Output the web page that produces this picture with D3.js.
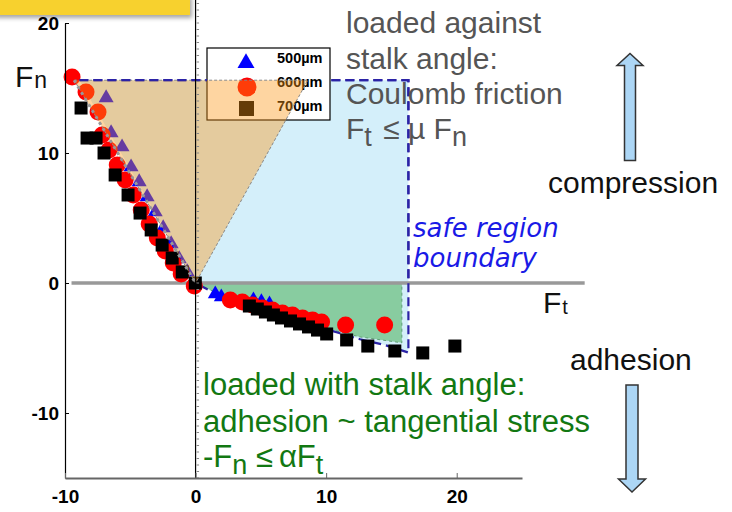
<!DOCTYPE html>
<html>
<head>
<meta charset="utf-8">
<script src="https://cdn.jsdelivr.net/npm/d3@7"></script>
<style>
  body { margin: 0; background: #fff; }
  text { font-family: 'Liberation Sans', Arial, sans-serif; }
</style>
</head>
<body>
<div id="chart"></div>
<script>
const width = 732;
const height = 512;

// Axis setup
const ftDomain = [-10, 25];
const fnDomain = [-15, 20];
const ftTicks = [-10, 0, 10, 20];
const fnTicks = [-10, 0, 10, 20];

// 500um (triangles)
const ft500 = [-6.85, -6.47, -5.63, -4.94, -4.32, -3.71, -3.09, -2.48, -1.87, -1.25, -0.64, 1.51, 1.97, 4.43, 5.04, 5.66];
const fn500 = [14.23, 11.54, 10.46, 8.92, 7.77, 6.62, 5.46, 4.23, 3.0, 1.85, 0.85, -0.85, -1.08, -1.31, -1.46, -1.62];

// 600um (circles)
const ft600 = [-9.46, -8.39, -7.47, -7.16, -6.62, -6.0, -5.39, -4.77, -4.16, -3.55, -2.93, -2.32, -1.71, -1.1, -0.1,
  2.66, 3.58, 4.35, 5.12, 5.89, 6.65, 7.42, 8.19, 8.96, 9.65, 11.49, 14.48];
const fn600 = [15.85, 14.69, 13.15, 11.38, 10.23, 9.08, 7.92, 6.77, 5.62, 4.54, 3.46, 2.46, 1.54, 0.69, -0.23,
  -1.31, -1.46, -1.69, -1.92, -2.08, -2.31, -2.46, -2.69, -2.85, -3.0, -3.23, -3.23];

// 700um (squares)
const ft700 = [-8.77, -8.31, -7.62, -7.01, -6.16, -5.17, -4.25, -3.40, -2.56, -1.79, -1.02, -0.02,
  4.12, 4.73, 5.35, 5.96, 6.58, 7.27, 7.96, 8.65, 9.34, 10.04, 11.57, 13.19, 15.26, 17.40, 19.86];
const fn700 = [13.46, 11.15, 11.15, 10.0, 8.31, 6.77, 5.38, 4.08, 2.92, 1.92, 0.85, 0.0,
  -1.77, -2.0, -2.23, -2.46, -2.69, -2.92, -3.15, -3.38, -3.62, -3.92, -4.38, -4.85, -5.23, -5.38, -4.85];

// safe region boundary (dashed) and regions
const boundFt = [-8.9, 16.3, 16.3, 14.5, 12.6, 11, 9, 7, 5, 3, 1.3, 0];
const boundFn = [15.6, 15.6, -5.35, -4.77, -4.33, -3.85, -3.25, -2.65, -2.0, -1.3, -0.69, 0];
const adhesionFt = [0, 15.8, 15.8, 12.6, 11, 9, 7, 5, 3, 1.3, 0];
const adhesionFn = [0, 0, -4.6, -4.15, -3.75, -3.2, -2.6, -1.95, -1.25, -0.62, 0];
const wedgeFt = [-9.3, 8.6, 0];
const wedgeFn = [15.6, 15.6, 0];
const zeroFt = [-9.5, 29.8];

const legendLabels = ['500µm', '600µm', '700µm'];

// Scales
const x = d3.scaleLinear().domain(ftDomain).range([65, 522]);
const y = d3.scaleLinear().domain(fnDomain).range([478, 23]);

const svg = d3.select('#chart')
  .append('svg')
  .attr('width', width)
  .attr('height', height);

const defs = svg.append('defs');
const shadow = defs.append('filter').attr('id', 'shadow')
  .attr('x', '-10%').attr('y', '-50%').attr('width', '130%').attr('height', '250%');
shadow.append('feDropShadow')
  .attr('dx', 2).attr('dy', 3).attr('stdDeviation', 2)
  .attr('flood-color', '#000').attr('flood-opacity', 0.35);

// legend box position
const legend = { x: 207, y: 48, w: 123, h: 72 };

// mask so the top dashed boundary passes behind the legend
const mask = defs.append('mask').attr('id', 'noLegend');
mask.append('rect').attr('x', 0).attr('y', 0).attr('width', width).attr('height', y(0)).attr('fill', '#fff');
mask.append('rect').attr('x', legend.x).attr('y', legend.y).attr('width', legend.w).attr('height', legend.h).attr('fill', '#000');

const pts = (a, b) => d3.zip(a, b);
const line = d3.line().x(d => x(d[0])).y(d => y(d[1]));

// Safe region fill
svg.append('path')
  .attr('d', line(pts(boundFt, boundFn)) + 'Z')
  .attr('fill', '#d4effa');

// Adhesion region
svg.append('path')
  .attr('d', line(pts(adhesionFt, adhesionFn)) + 'Z')
  .attr('fill', '#88cca0')
  .attr('stroke', '#5f9f74')
  .attr('stroke-width', 1)
  .attr('stroke-dasharray', '3,3');

// Zero line
svg.append('path')
  .attr('d', `M${x(zeroFt[0])},${y(0)}H${x(zeroFt[1])}`)
  .attr('stroke', '#999')
  .attr('stroke-width', 3.5);

// Boundary dashed (under data)
const boundaryPath = line(pts(boundFt, boundFn));
svg.append('path')
  .attr('d', boundaryPath)
  .attr('fill', 'none')
  .attr('stroke', '#2b23a6')
  .attr('stroke-width', 2.2)
  .attr('stroke-dasharray', '9,5');

// Data markers
svg.append('g').selectAll('path')
  .data(pts(ft500, fn500))
  .join('path')
  .attr('transform', d => `translate(${x(d[0])},${y(d[1])})`)
  .attr('d', d3.symbol(d3.symbolTriangle, 97))
  .attr('fill', '#0000ff');

svg.append('g').selectAll('circle')
  .data(pts(ft600, fn600))
  .join('circle')
  .attr('cx', d => x(d[0]))
  .attr('cy', d => y(d[1]))
  .attr('r', 8.5)
  .attr('fill', '#ff0000');

svg.append('g').selectAll('rect')
  .data(pts(ft700, fn700))
  .join('rect')
  .attr('x', d => x(d[0]) - 6.5)
  .attr('y', d => y(d[1]) - 6.5)
  .attr('width', 13)
  .attr('height', 13)
  .attr('fill', '#000');

// Legend
const lg = svg.append('g');
lg.append('rect')
  .attr('x', legend.x).attr('y', legend.y)
  .attr('width', legend.w).attr('height', legend.h)
  .attr('fill', '#fff').attr('stroke', '#000').attr('stroke-width', 1.2);
lg.append('path')
  .attr('transform', 'translate(246,63)')
  .attr('d', d3.symbol(d3.symbolTriangle, 125))
  .attr('fill', '#0000ff');
lg.append('circle').attr('cx', 247).attr('cy', 87).attr('r', 9.5).attr('fill', '#ff0000');
lg.append('rect').attr('x', 239).attr('y', 101).attr('width', 15).attr('height', 15).attr('fill', '#000');
lg.selectAll('text.lab')
  .data(legendLabels)
  .join('text')
  .attr('class', 'lab')
  .attr('x', 277)
  .attr('y', (d, i) => 63 + i * 24)
  .style('font-size', '14.5px')
  .style('font-weight', 'bold')
  .attr('fill', '#000')
  .text(d => d);

// Friction cone (semi-transparent orange, drawn on top)
svg.append('path')
  .attr('d', line(pts(wedgeFt, wedgeFn)) + 'Z')
  .attr('fill', 'rgba(252,151,21,0.4)')
  .attr('stroke', '#888')
  .attr('stroke-width', 1)
  .attr('stroke-dasharray', '3,2');

// dotted left edge of cone
svg.append('path')
  .attr('d', line(pts(wedgeFt.filter((d, i) => i !== 1), wedgeFn.filter((d, i) => i !== 1))))
  .attr('fill', 'none')
  .attr('stroke', '#999')
  .attr('stroke-width', 3)
  .attr('stroke-dasharray', '3,4');

// Boundary dashed again on top, except behind legend and below zero
svg.append('path')
  .attr('d', boundaryPath)
  .attr('fill', 'none')
  .attr('stroke', '#2b23a6')
  .attr('stroke-width', 2.2)
  .attr('stroke-dasharray', '9,5')
  .attr('mask', 'url(#noLegend)');

// Vertical line at Ft = 0 with minor ticks
svg.append('line')
  .attr('x1', x(0)).attr('x2', x(0))
  .attr('y1', 0).attr('y2', y(-15))
  .attr('stroke', '#000').attr('stroke-width', 1.2);
svg.append('g').selectAll('line')
  .data(d3.range(-15, 22, 0.5))
  .join('line')
  .attr('x1', x(0) + 1).attr('x2', x(0) + 3.5)
  .attr('y1', d => y(d)).attr('y2', d => y(d))
  .attr('stroke', '#888').attr('stroke-width', 1);

// Left axis
const yAxis = svg.append('g')
  .attr('transform', `translate(${x(-10)},0)`)
  .call(d3.axisLeft(y).tickValues(fnTicks).tickFormat(d => String(d))
    .tickSizeInner(-4).tickSizeOuter(0).tickPadding(6));
yAxis.select('.domain').attr('stroke', '#000').attr('stroke-width', 1.2);
yAxis.selectAll('.tick line').attr('stroke', '#000');
yAxis.selectAll('.tick text')
  .attr('fill', '#000')
  .style('font-family', "'Liberation Sans', Arial, sans-serif")
  .style('font-size', '19px')
  .style('font-weight', 'bold');

// Bottom axis
const xAxis = svg.append('g')
  .attr('transform', `translate(0,${y(-15)})`)
  .call(d3.axisBottom(x).tickValues(ftTicks).tickFormat(d => String(d))
    .tickSizeInner(-5).tickSizeOuter(0).tickPadding(11.5));
xAxis.select('.domain').attr('stroke', '#666').attr('stroke-width', 2.2);
xAxis.selectAll('.tick line').attr('stroke', '#666');
xAxis.selectAll('.tick text')
  .attr('fill', '#000')
  .style('font-family', "'Liberation Sans', Arial, sans-serif")
  .style('font-size', '19px')
  .style('font-weight', 'bold');

// Yellow title bar remnant
svg.append('rect')
  .attr('x', -6).attr('y', -6)
  .attr('width', 196).attr('height', 21)
  .attr('fill', '#f7d12f')
  .attr('filter', 'url(#shadow)');

// Axis labels
const fnLabel = svg.append('text').attr('x', 15).attr('y', 87).style('font-size', '30px').attr('fill', '#111');
fnLabel.append('tspan').text('F');
fnLabel.append('tspan').attr('dx', 1).attr('dy', 1).style('font-size', '23px').text('n');

const ftLabel = svg.append('text').attr('x', 543).attr('y', 313).style('font-size', '30px').attr('fill', '#111');
ftLabel.append('tspan').text('F');
ftLabel.append('tspan').attr('dx', 1).attr('dy', 1).style('font-size', '20px').text('t');

// Coulomb friction note
const grayLines = ['loaded against', 'stalk angle:', 'Coulomb friction'];
svg.append('g').selectAll('text')
  .data(grayLines)
  .join('text')
  .attr('x', 346)
  .attr('y', (d, i) => 33 + i * 35.5)
  .style('font-size', '30px')
  .attr('fill', '#555')
  .text(d => d);
const coulomb = svg.append('text').attr('x', 346).attr('y', 139).style('font-size', '30px').attr('fill', '#555');
coulomb.append('tspan').text('F');
coulomb.append('tspan').attr('dy', 7).style('font-size', '27px').text('t');
coulomb.append('tspan').attr('dy', -7).attr('dx', 3).text(' ≤ µ F');
coulomb.append('tspan').attr('dy', 7).style('font-size', '27px').text('n');

// Safe region label
svg.append('g').selectAll('text')
  .data(['safe region', 'boundary'])
  .join('text')
  .attr('x', 413)
  .attr('y', (d, i) => 237 + i * 30)
  .style('font-family', "'DejaVu Sans', sans-serif")
  .style('font-style', 'italic')
  .style('font-size', '26px')
  .attr('fill', '#1a1ae6')
  .text(d => d);

// Adhesion note
const greenLines = ['loaded with stalk angle:', 'adhesion ~ tangential stress'];
svg.append('g').selectAll('text')
  .data(greenLines)
  .join('text')
  .attr('x', 203)
  .attr('y', (d, i) => 395 + i * 37)
  .style('font-size', '31px')
  .attr('fill', '#127812')
  .text(d => d);
const adh = svg.append('text').attr('x', 203).attr('y', 467).style('font-size', '31px').attr('fill', '#127812');
adh.append('tspan').text('-F');
adh.append('tspan').attr('dy', 7).style('font-size', '27px').text('n');
adh.append('tspan').attr('dy', -7).text(' ≤');
adh.append('tspan').attr('dx', 6).text('αF');
adh.append('tspan').attr('dy', 7).style('font-size', '27px').text('t');

// compression / adhesion
svg.append('text').attr('x', 548).attr('y', 193).style('font-size', '30px').attr('fill', '#111').text('compression');
svg.append('text').attr('x', 570).attr('y', 370).style('font-size', '30px').attr('fill', '#111').text('adhesion');

// Block arrows
function arrow(cx, tail, tip, shaftHalf, headHalf, headLen) {
  const s = Math.sign(tip - tail);
  const base = tip - s * headLen;
  return `M${cx - shaftHalf},${tail}V${base}H${cx - headHalf}L${cx},${tip}L${cx + headHalf},${base}H${cx + shaftHalf}V${tail}Z`;
}
svg.append('path')
  .attr('d', arrow(630, 160.5, 53.5, 5.5, 13, 12))
  .attr('fill', '#acd6f5').attr('stroke', '#333').attr('stroke-width', 1.5);
svg.append('path')
  .attr('d', arrow(632, 385, 492, 6, 13.5, 13))
  .attr('fill', '#acd6f5').attr('stroke', '#333').attr('stroke-width', 1.5);
</script>
</body>
</html>
